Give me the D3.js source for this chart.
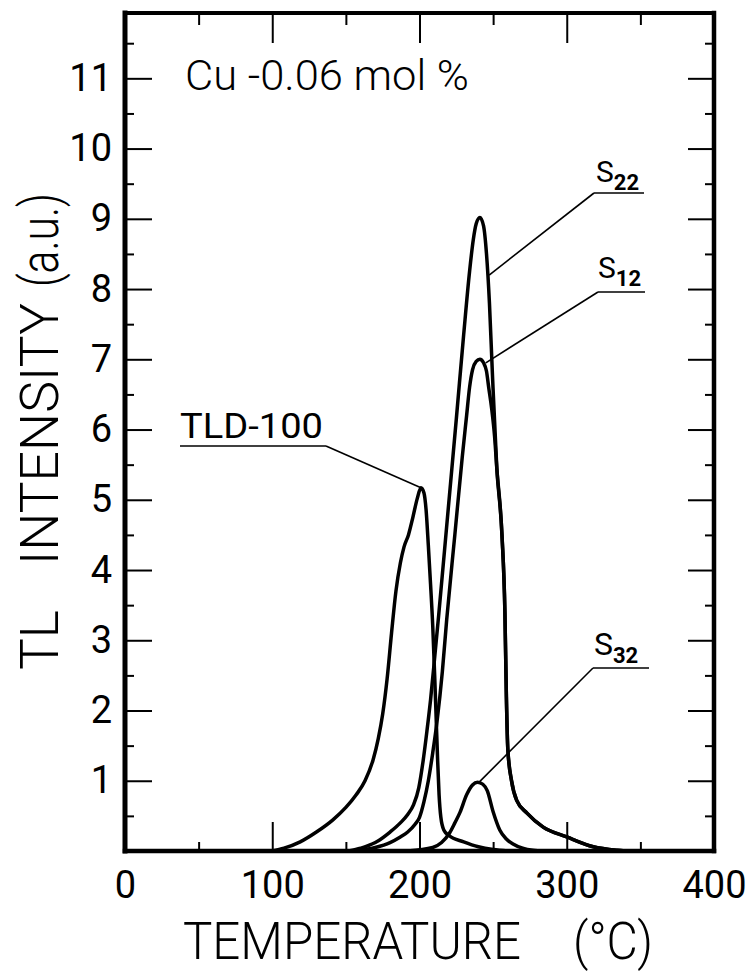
<!DOCTYPE html>
<html lang="en">
<head>
  <meta charset="utf-8">
  <title>TL glow curves</title>
  <script src="https://d3js.org/d3.v7.min.js"></script>
  <style>
    body { margin: 0; background: #fff; }
    svg { display: block; }
    text { font-family: Roboto, 'Liberation Sans', Arial, sans-serif; font-weight: 300; fill: #000; }
    .axis text { font-size: 38px; font-weight: 400; }
    .axis line { stroke: #000; stroke-width: 2; }
    .axis path { display: none; }
  </style>
</head>
<body>
  <div id="chart"></div>
  <script>
    // glow curves: [temperature °C, TL intensity a.u.]
    var tld100 = [[100, 0], [108, 0.04], [119, 0.13], [130, 0.27], [141, 0.44], [150, 0.62], [157, 0.8],
      [163, 1.0], [168.5, 1.3], [172, 1.6], [175, 1.95], [178, 2.45], [181, 3.1], [184, 3.7], [187, 4.1],
      [189.5, 4.33], [192.5, 4.5], [195.5, 4.75], [198.5, 5.02], [201, 5.17], [203, 5.1], [204.5, 4.85],
      [206, 4.35], [207.5, 3.8], [209, 3.2], [210.3, 2.5], [211.3, 1.9], [212.3, 1.3], [213.3, 0.8],
      [214.5, 0.48], [216.5, 0.3], [220, 0.22], [230, 0.13], [240, 0.06], [250, 0.02], [260, 0]];

    var s22 = [[152, 0], [160, 0.04], [170, 0.12], [180, 0.27], [187, 0.4], [192, 0.52], [196, 0.66],
      [199.5, 0.9], [202.5, 1.29], [205, 1.7], [207.5, 2.15], [210.5, 2.8], [213, 3.35], [219, 4.75],
      [225, 6.15], [230, 7.35], [234, 8.25], [236.5, 8.7], [238.5, 8.93], [241, 9.02], [243.5, 8.9],
      [245.5, 8.5], [247.5, 7.8], [249.5, 6.8], [252.5, 5.45], [256, 4.5], [258, 3.4], [259, 2.2],
      [260, 1.44], [262.5, 1.0], [266, 0.72], [273, 0.54], [284, 0.34], [300, 0.2], [318, 0.06],
      [334, 0.01], [340, 0]];

    var s12 = [[155, 0], [170, 0.05], [180, 0.12], [187, 0.2], [192, 0.27], [197, 0.38], [200, 0.48],
      [203, 0.7], [206, 1.0], [209, 1.4], [212, 1.86], [215.5, 2.55], [218.5, 3.3], [224, 4.5], [229, 5.6],
      [232, 6.2], [234, 6.6], [236, 6.85], [238.5, 6.97], [241, 7.0], [243.5, 6.95], [245.5, 6.83],
      [247, 6.6], [249, 6.3], [251, 5.9], [252.5, 5.45], [256, 4.5], [258, 3.4], [259, 2.2], [260, 1.44],
      [262.5, 1.0], [266, 0.72], [273, 0.54], [284, 0.34], [300, 0.2], [318, 0.06], [334, 0.01], [340, 0]];

    var s32 = [[192, 0], [209, 0.05], [215, 0.12], [220.5, 0.26], [224, 0.4], [227.5, 0.55], [232, 0.8],
      [236, 0.94], [239.5, 0.98], [243, 0.95], [246, 0.86], [250, 0.56], [254.5, 0.3], [259, 0.17],
      [263.5, 0.1], [270, 0.04], [277, 0.01], [285, 0]];

    var seriesList = [tld100, s22, s12, s32];

    // tick values
    var xMajor = [0, 100, 200, 300, 400];
    var xMinor = [50, 150, 250, 350];
    var yMajor = [1, 2, 3, 4, 5, 6, 7, 8, 9, 10, 11];
    var yMinor = [0.5, 1.5, 2.5, 3.5, 4.5, 5.5, 6.5, 7.5, 8.5, 9.5, 10.5, 11.5];

    // curve labels and where each leader line lands on its curve (data units)
    var labelNames = ["TLD-100", "S", "S", "S"];
    var labelSubs = ["", "22", "12", "32"];
    var leaderTargets = [[201, 5.17], [247.3, 8.2], [245, 6.95], [240, 0.97]];

    var width = 752, height = 972;
    var plotL = 125, plotR = 714, plotT = 13, plotB = 851;

    var svg = d3.select("#chart").append("svg")
      .attr("width", width)
      .attr("height", height);

    var x = d3.scaleLinear().domain([0, 400]).range([plotL, plotR]);
    var y = d3.scaleLinear().domain([0, 11.93]).range([plotB, plotT]);

    // ticks, all pointing into the frame
    svg.append("g").attr("class", "axis").attr("transform", "translate(0," + plotB + ")")
      .call(d3.axisBottom(x).tickValues(xMajor).tickSizeInner(-29).tickSizeOuter(0).tickPadding(20));
    svg.append("g").attr("class", "axis").attr("transform", "translate(0," + plotB + ")")
      .call(d3.axisBottom(x).tickValues(xMinor).tickSizeInner(-9).tickSizeOuter(0).tickFormat(""));
    svg.append("g").attr("class", "axis").attr("transform", "translate(0," + plotT + ")")
      .call(d3.axisTop(x).tickValues(xMajor).tickSizeInner(-30).tickSizeOuter(0).tickFormat(""));
    svg.append("g").attr("class", "axis").attr("transform", "translate(0," + plotT + ")")
      .call(d3.axisTop(x).tickValues(xMinor).tickSizeInner(-12).tickSizeOuter(0).tickFormat(""));

    svg.append("g").attr("class", "axis").attr("transform", "translate(" + plotL + ",0)")
      .call(d3.axisLeft(y).tickValues(yMajor).tickSizeInner(-27).tickSizeOuter(0).tickPadding(13));
    svg.append("g").attr("class", "axis").attr("transform", "translate(" + plotL + ",0)")
      .call(d3.axisLeft(y).tickValues(yMinor).tickSizeInner(-9).tickSizeOuter(0).tickFormat(""));
    svg.append("g").attr("class", "axis").attr("transform", "translate(" + plotR + ",0)")
      .call(d3.axisRight(y).tickValues(yMajor).tickSizeInner(-26).tickSizeOuter(0).tickFormat(""));
    svg.append("g").attr("class", "axis").attr("transform", "translate(" + plotR + ",0)")
      .call(d3.axisRight(y).tickValues(yMinor).tickSizeInner(-9).tickSizeOuter(0).tickFormat(""));

    // frame
    var frame = [[plotL, plotT, plotR, plotT, 4], [plotR, plotT, plotR, plotB, 4.5],
      [plotL, plotB, plotR, plotB, 4.5], [plotL, plotT, plotL, plotB, 5]];
    frame.forEach(function (f) {
      svg.append("line")
        .attr("x1", f[0]).attr("y1", f[1]).attr("x2", f[2]).attr("y2", f[3])
        .attr("stroke", "#000").attr("stroke-width", f[4]).attr("stroke-linecap", "square");
    });

    // glow curves
    var line = d3.line()
      .x(function (d) { return x(d[0]); })
      .y(function (d) { return y(d[1]); })
      .curve(d3.curveMonotoneX);

    seriesList.forEach(function (s) {
      svg.append("path")
        .attr("d", line(s))
        .attr("fill", "none")
        .attr("stroke", "#000")
        .attr("stroke-width", 3.5)
        .attr("stroke-linejoin", "round");
    });

    // labels: text position, underline (x1, x2, y); the leader starts at the underline end nearest the curve
    var labelLayout = [
      { tx: 180, ty: 438, size: 35, len: 143, ux1: 180, ux2: 326, uy: 446, from: "end" },
      { tx: 596, ty: 182, size: 30, ux1: 594, ux2: 644, uy: 193, from: "start" },
      { tx: 598, ty: 278, size: 30, ux1: 598, ux2: 645, uy: 292, from: "start" },
      { tx: 594, ty: 655, size: 32, ux1: 593, ux2: 649, uy: 668, from: "start" }
    ];

    labelLayout.forEach(function (L, i) {
      var t = svg.append("text")
        .attr("x", L.tx).attr("y", L.ty)
        .style("font-size", L.size + "px")
        .style("font-weight", 400);
      if (L.len) t.attr("textLength", L.len).attr("lengthAdjust", "spacingAndGlyphs");
      t.append("tspan").text(labelNames[i]);
      if (labelSubs[i]) {
        t.append("tspan")
          .attr("dy", 8)
          .style("font-size", "22px")
          .style("font-weight", 700)
          .text(labelSubs[i]);
      }
      svg.append("line")
        .attr("x1", L.ux1).attr("x2", L.ux2).attr("y1", L.uy).attr("y2", L.uy)
        .attr("stroke", "#000").attr("stroke-width", 1.6);
      var sx = L.from === "end" ? L.ux2 : L.ux1;
      svg.append("line")
        .attr("x1", sx).attr("y1", L.uy)
        .attr("x2", x(leaderTargets[i][0])).attr("y2", y(leaderTargets[i][1]))
        .attr("stroke", "#000").attr("stroke-width", 1.6);
    });

    // composition note
    svg.append("text")
      .attr("x", 185).attr("y", 90)
      .attr("textLength", 284).attr("lengthAdjust", "spacingAndGlyphs")
      .style("font-size", "42px")
      .text("Cu -0.06 mol %");

    // axis titles
    svg.append("text").attr("x", 183).attr("y", 959)
      .attr("textLength", 338).attr("lengthAdjust", "spacingAndGlyphs")
      .style("font-size", "52px").text("TEMPERATURE");
    svg.append("text").attr("x", 573).attr("y", 959)
      .attr("textLength", 80).attr("lengthAdjust", "spacingAndGlyphs")
      .style("font-size", "52px").text("(°C)");

    var yTitle = svg.append("g").attr("transform", "translate(58,0) rotate(-90)");
    yTitle.append("text").attr("x", -670).attr("y", 0)
      .attr("textLength", 60).attr("lengthAdjust", "spacingAndGlyphs")
      .style("font-size", "53px").text("TL");
    yTitle.append("text").attr("x", -565).attr("y", 0)
      .attr("textLength", 262).attr("lengthAdjust", "spacingAndGlyphs")
      .style("font-size", "53px").text("INTENSITY");
    yTitle.append("text").attr("x", -287).attr("y", 0)
      .attr("textLength", 94).attr("lengthAdjust", "spacingAndGlyphs")
      .style("font-size", "53px").text("(a.u.)");
  </script>
</body>
</html>
